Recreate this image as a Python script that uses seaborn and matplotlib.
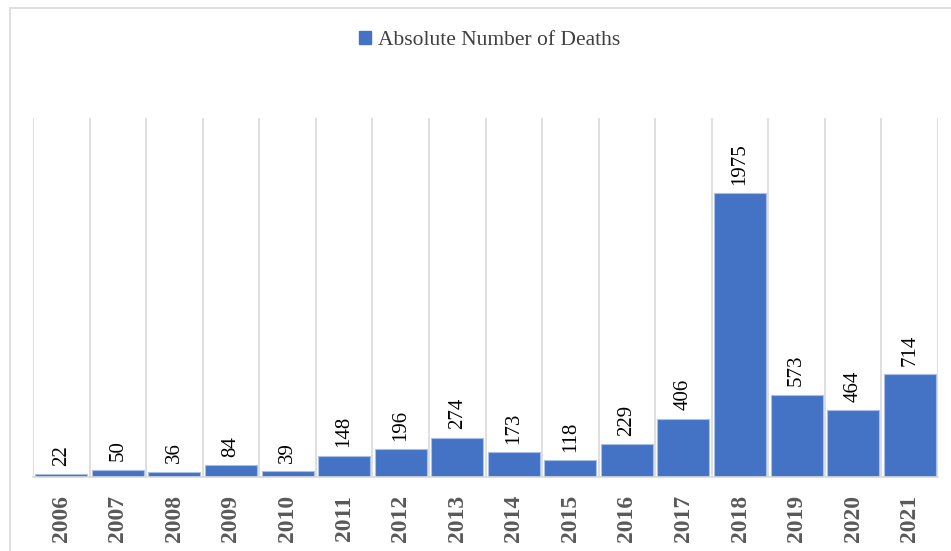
import matplotlib
matplotlib.use("Agg")
import matplotlib.pyplot as plt
import pandas as pd
import seaborn as sns
from matplotlib.lines import Line2D
from matplotlib.patches import Patch

years = ["2006", "2007", "2008", "2009", "2010", "2011", "2012", "2013",
         "2014", "2015", "2016", "2017", "2018", "2019", "2020", "2021"]
deaths = [22, 50, 36, 84, 39, 148, 196, 274, 173, 118, 229, 406, 1975, 573, 464, 714]
series_name = "Absolute Number of Deaths"

sns.set_style("white")
plt.rcParams["font.family"] = ["Liberation Serif", "DejaVu Serif"]

bar_color = "#4472C4"
grid_color = "#D9D9D9"

df = pd.DataFrame({"year": years, "deaths": deaths})

fig = plt.figure(figsize=(9.51, 5.51), dpi=100)
ax = fig.add_axes([33 / 951, 74 / 551, 905 / 951, 359 / 551])

sns.barplot(data=df, x="year", y="deaths", color=bar_color, width=0.92,
            saturation=1, edgecolor="#A9BFE6", linewidth=0.8, ax=ax)

ax.set_ylim(0, 2500)
ax.set_xlim(-0.5, len(years) - 0.5)
ax.set_yticks([])
ax.set_xlabel("")
ax.set_ylabel("")

# vertical separators between categories
ax.set_xticks([i - 0.5 for i in range(len(years) + 1)], minor=True)
ax.grid(True, which="minor", axis="x", color=grid_color, linewidth=1.2)
ax.grid(False, which="major")
ax.tick_params(axis="x", which="both", length=0)
ax.set_axisbelow(True)

for side in ["top", "right", "left"]:
    ax.spines[side].set_visible(False)
ax.spines["bottom"].set_color(grid_color)
ax.spines["bottom"].set_linewidth(1.2)

ax.set_xticks(range(len(years)))
ax.set_xticklabels(years, rotation=90, fontsize=17, fontweight="bold", color="#595959")
ax.tick_params(axis="x", which="major", pad=13)

ax.bar_label(ax.containers[0], labels=[str(v) for v in deaths], rotation=90,
             padding=6, fontsize=15, color="black")

handle = Patch(facecolor=bar_color, edgecolor=bar_color)
fig.legend([handle], [series_name], loc="center", bbox_to_anchor=(0.515, 0.926),
           frameon=False, fontsize=15.5, handlelength=0.55, handleheight=0.55,
           handletextpad=0.3, labelcolor="#404040")

# outer chart frame
fig.add_artist(Line2D([10 / 951, 10 / 951], [0, 1 - 8 / 551], color=grid_color,
                      linewidth=1.2, transform=fig.transFigure))
fig.add_artist(Line2D([10 / 951, 1], [1 - 8 / 551, 1 - 8 / 551], color=grid_color,
                      linewidth=1.2, transform=fig.transFigure))

fig.savefig("out.png", dpi=100, facecolor="white")
